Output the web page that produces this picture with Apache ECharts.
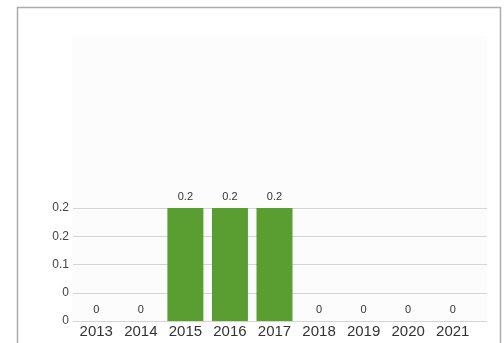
<!DOCTYPE html>
<html>
<head>
<meta charset="utf-8">
<script src="https://cdn.jsdelivr.net/npm/echarts@6/dist/echarts.min.js"></script>
<style>
  html, body { margin: 0; padding: 0; background: #fff; }
  #chart { width: 504px; height: 343px; }
</style>
</head>
<body>
<div id="chart"></div>
<script>
// data
const years = ['2013', '2014', '2015', '2016', '2017', '2018', '2019', '2020', '2021']
const values = [0, 0, 0.2, 0.2, 0.2, 0, 0, 0, 0]
// tick labels as printed in the original (rounded to one decimal)
const yTickLabels = ['0', '0', '0.1', '0.2', '0.2']

const font = "'Liberation Sans', Arial, sans-serif"
const chart = echarts.init(document.getElementById('chart'))

chart.setOption({
  animation: false,
  textStyle: { fontFamily: font },
  graphic: [
    {
      type: 'rect',
      z: -10,
      shape: { x: 17.5, y: 7.5, width: 483, height: 345 },
      style: { fill: '#fff', stroke: '#acacac', lineWidth: 1.5 }
    },
    {
      type: 'rect',
      z: -9,
      shape: { x: 72, y: 36, width: 415, height: 286 },
      style: { fill: '#fcfcfc' }
    }
  ],
  grid: [
    // grid for the horizontal lines and y labels
    { left: 73, right: 17, top: 208, bottom: 22 },
    // grid for the bars
    { left: 74, right: 29, top: 208, bottom: 22 }
  ],
  xAxis: [
    { gridIndex: 0, type: 'value', show: false, min: 0, max: 1 },
    {
      gridIndex: 1,
      type: 'category',
      data: years,
      axisLine: { show: false },
      axisTick: { show: false },
      axisLabel: { color: '#333', fontSize: 15, margin: 3, fontFamily: font }
    }
  ],
  yAxis: [
    {
      gridIndex: 0,
      type: 'value',
      min: 0,
      max: 0.2,
      interval: 0.05,
      axisLine: { show: false },
      axisTick: { show: false },
      splitLine: { lineStyle: { color: '#d4d4d4', width: 1 } },
      axisLabel: {
        color: '#444',
        fontSize: 12,
        margin: 4,
        padding: [0, 0, 10, 0],
        fontFamily: font,
        formatter: (v, i) => yTickLabels[i]
      }
    },
    { gridIndex: 1, type: 'value', min: 0, max: 0.2, show: false }
  ],
  series: [{
    type: 'bar',
    xAxisIndex: 1,
    yAxisIndex: 1,
    data: values,
    barWidth: 36,
    itemStyle: { color: '#5a9e32' },
    label: {
      show: true,
      position: 'top',
      distance: 6,
      color: '#333',
      fontSize: 11,
      fontFamily: font
    }
  }]
})
</script>
</body>
</html>
